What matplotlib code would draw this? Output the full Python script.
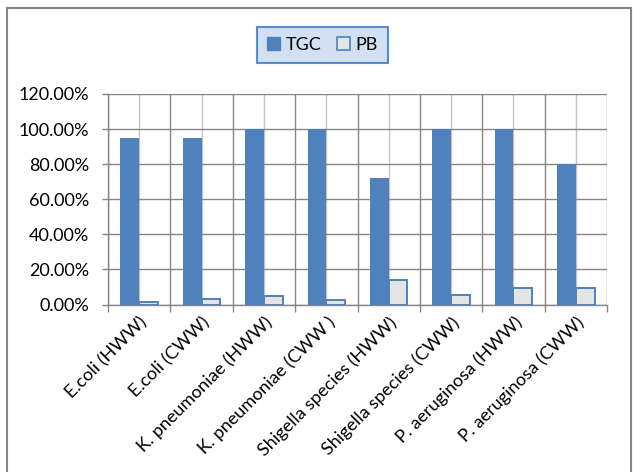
import numpy as np
import matplotlib.pyplot as plt
from matplotlib.patches import Rectangle, Patch
from matplotlib.ticker import PercentFormatter

plt.rcParams['font.family'] = ['Lato', 'DejaVu Sans']

categories = ['E.coli (HWW)', 'E.coli (CWW)', 'K. pneumoniae (HWW)',
              'K. pneumoniae (CWW )', 'Shigella species (HWW)',
              'Shigella species (CWW)', 'P. aeruginosa (HWW)',
              'P. aeruginosa (CWW)']
tgc = [0.95, 0.95, 1.00, 1.00, 0.72, 1.00, 1.00, 0.80]
pb = [0.014, 0.03, 0.05, 0.026, 0.14, 0.054, 0.092, 0.092]

BLUE = '#4f81bd'
GRID_DARK = '#868686'
GRID_LIGHT = '#c4c4c4'

fig = plt.figure(figsize=(6.33, 4.72), dpi=100)
ax = fig.add_axes([108 / 633, 1 - 304.5 / 472, 499 / 633, 210.5 / 472])

x = np.arange(len(categories))
w = 0.3
ax.bar(x - w / 2, tgc, w, color=BLUE, zorder=3)
ax.bar(x + w / 2, pb, w, color='#e4e4e4', edgecolor=BLUE, linewidth=1.4, zorder=3)

ax.set_xlim(-0.5, len(categories) - 0.5)
ax.set_ylim(0, 1.2)
ax.set_yticks(np.arange(0, 1.21, 0.2))
ax.yaxis.set_major_formatter(PercentFormatter(xmax=1, decimals=2))

# boundaries between groups carry the tick marks, group centres carry the names
ax.set_xticks(np.arange(-0.5, len(categories), 1.0))
ax.set_xticklabels([])
ax.set_xticks(x, minor=True)
ax.set_xticklabels(categories, minor=True, rotation=45, ha='right',
                   rotation_mode='anchor', fontsize=13)
ax.tick_params(axis='x', which='major', length=5, color=GRID_DARK, width=1)
ax.tick_params(axis='x', which='minor', length=0, pad=7)
ax.tick_params(axis='y', length=4.5, color=GRID_DARK, width=1, labelsize=13, pad=9)

ax.grid(axis='y', color=GRID_DARK, linewidth=1.0, zorder=0)
ax.grid(axis='x', which='major', color=GRID_DARK, linewidth=1.0, zorder=0)
ax.grid(axis='x', which='minor', color=GRID_LIGHT, linewidth=1.0, zorder=0)
ax.set_axisbelow(True)
for side in ['top', 'right']:
    ax.spines[side].set_visible(False)
for side in ['left', 'bottom']:
    ax.spines[side].set_color(GRID_DARK)
    ax.spines[side].set_linewidth(1.0)

handles = [Patch(facecolor=BLUE, edgecolor=BLUE),
           Patch(facecolor='#e4e4e4', edgecolor=BLUE, linewidth=1.2)]
leg = fig.legend(handles, ['TGC', 'PB'], loc='center',
                 bbox_to_anchor=(322.5 / 633, 1 - 45 / 472), ncol=2,
                 fontsize=13, frameon=True, fancybox=False,
                 handlelength=0.7, handleheight=0.7, handletextpad=0.3,
                 columnspacing=0.9, borderpad=0.55)
leg.get_frame().set_facecolor('#c6d9f1')
leg.get_frame().set_edgecolor('#2e75c6')
leg.get_frame().set_linewidth(1.5)

fig.patches.append(Rectangle((7 / 633, -0.01), 624 / 633, 1 - 8 / 472 + 0.01,
                             transform=fig.transFigure, fill=False,
                             edgecolor=GRID_DARK, linewidth=1.5))

fig.savefig('out.png', dpi=100)
